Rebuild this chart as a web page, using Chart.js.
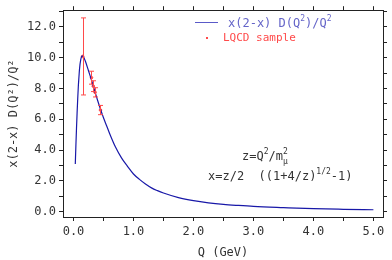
<!DOCTYPE html>
<html>
<head>
<meta charset="utf-8">
<script src="https://cdn.jsdelivr.net/npm/chart.js@4"></script>
<style>
  body { margin: 0; background: #fff; }
  #wrap { width: 392px; height: 260px; }
</style>
</head>
<body>
<div id="wrap"><canvas id="chart" width="392" height="260"></canvas></div>
<script>
// curve: x(2-x) D(Q^2)/Q^2 vs Q (GeV)
const qCurve = [0.03, 0.04, 0.05, 0.06, 0.07, 0.08, 0.09, 0.10, 0.12, 0.14, 0.16, 0.18, 0.20, 0.25,
    0.30, 0.35, 0.40, 0.45, 0.50, 0.55, 0.60, 0.70, 0.80, 0.90, 1.00, 1.10, 1.20, 1.30, 1.40, 1.50,
    1.75, 2.00, 2.25, 2.50, 2.75, 3.00, 3.50, 4.00, 4.50, 5.00];
const yCurve = [3.1, 4.3, 5.4, 6.4, 7.3, 8.1, 8.7, 9.25, 9.85, 10.1, 10.1, 9.95, 9.75, 9.15,
    8.55, 7.9, 7.25, 6.65, 6.1, 5.6, 5.1, 4.2, 3.5, 2.95, 2.45, 2.1, 1.8, 1.55, 1.37, 1.22,
    0.92, 0.72, 0.58, 0.48, 0.41, 0.35, 0.27, 0.2, 0.16, 0.13];

// LQCD sample points with errors
const qLqcd = [0.153, 0.30, 0.33, 0.36, 0.45];
const yLqcd = [10.08, 8.7, 8.15, 7.75, 6.6];
const errLqcd = [2.5, 0.42, 0.35, 0.3, 0.3];

const xMajor = [0, 1, 2, 3, 4, 5];
const yMajor = [0, 2, 4, 6, 8, 10, 12];

const tickFont = { family: "DejaVu Sans Mono", size: 12 };
const black = "#333";
const red = "#ff4a4a";
const blue = "#1818a8";

const fixSize = (w, h) => (scale) => {
    if (w !== null) scale.width = w;
    if (h !== null) scale.height = h;
};

const axisBase = {
    type: "linear",
    border: { display: true, color: "#222", width: 1 },
    grid: { drawOnChartArea: false, color: "#222", tickColor: "#222", tickLength: 4, tickWidth: 1 },
};

const errorBars = {
    id: "errorBars",
    afterDatasetsDraw(chart) {
        const { ctx, scales: { x, y } } = chart;
        ctx.save();
        ctx.strokeStyle = red;
        ctx.lineWidth = 1;
        qLqcd.forEach((q, i) => {
            const px = Math.round(x.getPixelForValue(q)) + 0.5;
            const top = y.getPixelForValue(yLqcd[i] + errLqcd[i]);
            const bot = y.getPixelForValue(yLqcd[i] - errLqcd[i]);
            ctx.beginPath();
            ctx.moveTo(px, top); ctx.lineTo(px, bot);
            ctx.moveTo(px - 2.5, top); ctx.lineTo(px + 2.5, top);
            ctx.moveTo(px - 2.5, bot); ctx.lineTo(px + 2.5, bot);
            ctx.stroke();
        });
        ctx.restore();
    }
};

// text pieces: [text, size, dy, stacked piece]
const drawRich = (ctx, parts, x, y, color, family) => {
    ctx.fillStyle = color;
    ctx.textBaseline = "alphabetic";
    let cx = x;
    parts.forEach(([t, size, dy, stack]) => {
        ctx.font = size + "px " + family;
        ctx.fillText(t, cx, y + dy);
        if (stack) {
            ctx.font = stack[1] + "px " + family;
            ctx.fillText(stack[0], cx, y + stack[2]);
        }
        cx += ctx.measureText(t).width;
    });
};

const labels = {
    id: "labels",
    afterDraw(chart) {
        const { ctx } = chart;
        const fam = "DejaVu Sans Mono";
        ctx.save();
        // legend
        ctx.strokeStyle = "#5a5ac8";
        ctx.lineWidth = 1;
        ctx.beginPath();
        ctx.moveTo(195, 22.5); ctx.lineTo(218, 22.5);
        ctx.stroke();
        drawRich(ctx, [["x(2-x) D(Q", 12, 0], ["2", 8, -6], [")/Q", 12, 0], ["2", 8, -6]], 228, 27, "#6464c8", fam);
        ctx.fillStyle = red;
        ctx.fillRect(206, 37, 2, 2);
        drawRich(ctx, [["LQCD sample", 11, 0]], 223, 41, red, fam);
        // formula
        drawRich(ctx, [["z=Q", 12, 0], ["2", 8, -6], ["/m", 12, 0], ["2", 8, -6, ["\u03bc", 8, 4]]], 242, 160, black, fam);
        drawRich(ctx, [["x=z/2  ((1+4/z)", 12, 0], ["1/2", 8, -6], ["-1)", 12, 0]], 208, 180, black, fam);
        ctx.restore();
    }
};

new Chart(document.getElementById("chart"), {
    type: "line",
    data: {
        datasets: [
            {
                label: "x(2-x) D(Q\u00b2)/Q\u00b2",
                data: qCurve.map((q, i) => ({ x: q, y: yCurve[i] })),
                borderColor: blue,
                borderWidth: 1.2,
                pointRadius: 0,
                cubicInterpolationMode: "monotone",
                fill: false,
            },
            {
                type: "scatter",
                label: "LQCD sample",
                data: qLqcd.map((q, i) => ({ x: q, y: yLqcd[i] })),
                backgroundColor: red,
                borderColor: red,
                pointRadius: 1.3,
            },
        ],
    },
    options: {
        responsive: false,
        animation: false,
        layout: { padding: 0 },
        plugins: { legend: { display: false }, tooltip: { enabled: false } },
        scales: {
            x: {
                ...axisBase,
                position: "bottom",
                min: -0.175,
                max: 5.16,
                afterFit: fixSize(null, 43),
                ticks: {
                    stepSize: 0.5,
                    includeBounds: false,
                    font: tickFont,
                    color: black,
                    padding: 4,
                    maxRotation: 0,
                    autoSkip: false,
                    callback: (v) => (xMajor.includes(v) ? v.toFixed(1) : ""),
                },
                title: { display: true, text: "Q (GeV)", font: tickFont, color: black, padding: { top: 0, bottom: 0 } },
            },
            x2: {
                ...axisBase,
                position: "top",
                min: -0.175,
                max: 5.16,
                afterFit: fixSize(null, 9),
                ticks: { stepSize: 0.5, includeBounds: false, display: false, autoSkip: false },
            },
            y: {
                ...axisBase,
                position: "left",
                min: -0.34,
                max: 13.08,
                afterFit: fixSize(63, null),
                ticks: {
                    stepSize: 1,
                    includeBounds: false,
                    font: tickFont,
                    color: black,
                    padding: 3,
                    autoSkip: false,
                    callback: (v) => (yMajor.includes(v) ? v.toFixed(1) : ""),
                },
                title: { display: true, text: "x(2-x) D(Q\u00b2)/Q\u00b2", font: tickFont, color: black, padding: { top: 7, bottom: 0 } },
            },
            y2: {
                ...axisBase,
                position: "right",
                min: -0.34,
                max: 13.08,
                afterFit: fixSize(9, null),
                ticks: { stepSize: 1, includeBounds: false, display: false, autoSkip: false },
            },
        },
    },
    plugins: [errorBars, labels],
});
</script>
</body>
</html>
